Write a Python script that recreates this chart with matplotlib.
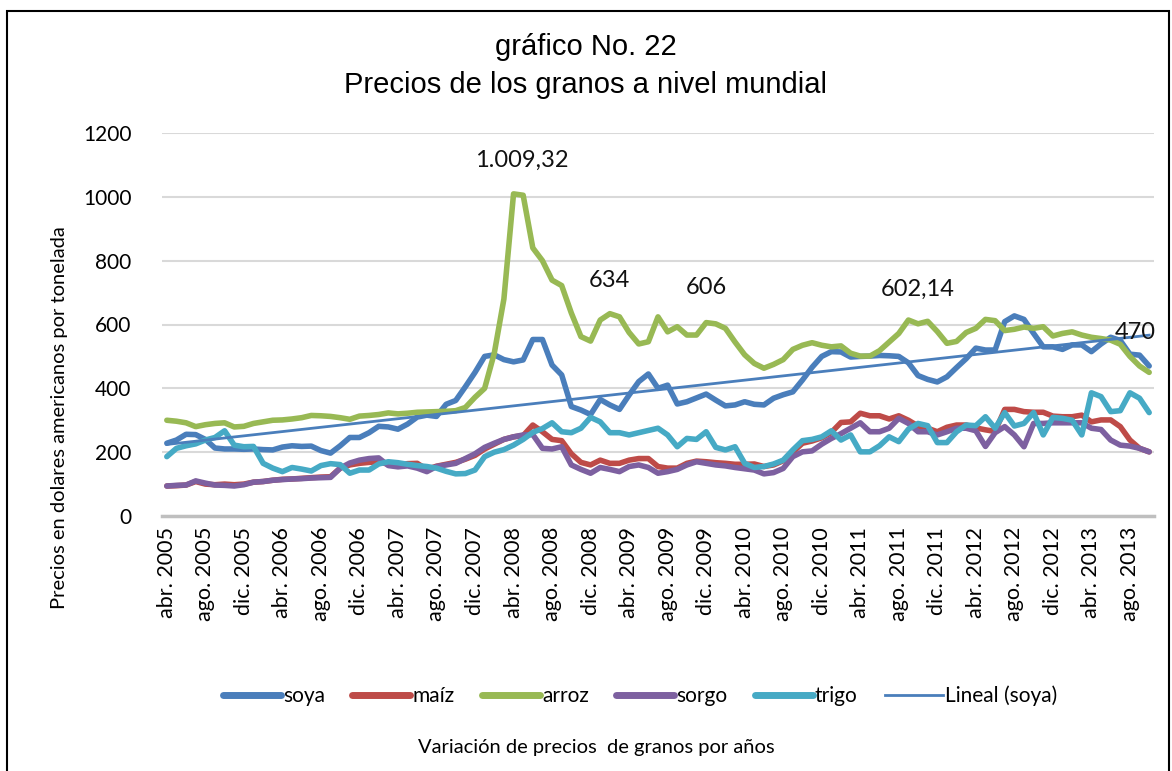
import numpy as np
import matplotlib
matplotlib.use("Agg")
import matplotlib.pyplot as plt
from matplotlib.patches import Rectangle

plt.rcParams["font.family"] = ["Lato", "DejaVu Sans"]

# monthly prices, abr. 2005 .. oct. 2013 (USD per tonne)
meses = ["ene.", "feb.", "mar.", "abr.", "may.", "jun.", "jul.", "ago.", "sep.", "oct.", "nov.", "dic."]
fechas = [f"{meses[(3 + k) % 12]} {2005 + (3 + k) // 12}" for k in range(103)]

soya = [228, 238, 256, 255, 240, 213, 210, 210, 209, 210,
        208, 207, 216, 220, 218, 219, 205, 197, 220, 246,
        246, 261, 281, 279, 272, 288, 310, 316, 312, 350,
        362, 405, 450, 500, 505, 490, 483, 489, 553, 553,
        473, 442, 343, 332, 318, 365, 348, 334, 379, 421,
        445, 400, 410, 351, 358, 370, 382, 363, 345, 348,
        358, 350, 348, 369, 380, 389, 426, 466, 500, 515,
        514, 498, 500, 501, 503, 502, 500, 480, 440, 428,
        420, 436, 465, 493, 526, 520, 520, 609, 627, 616,
        572, 530, 530, 522, 536, 536, 515, 539, 560, 550,
        507, 504, 470]

maiz = [94, 95, 97, 108, 100, 98, 100, 98, 100, 106,
        108, 112, 115, 116, 118, 120, 122, 123, 150, 160,
        165, 168, 170, 162, 160, 164, 165, 146, 156, 162,
        168, 178, 190, 210, 225, 240, 248, 252, 285, 264,
        240, 236, 195, 168, 160, 175, 165, 165, 175, 180,
        180, 155, 150, 150, 165, 172, 170, 167, 165, 162,
        162, 163, 155, 160, 173, 200, 228, 235, 245, 262,
        293, 295, 322, 314, 314, 304, 314, 300, 282, 275,
        264, 278, 285, 285, 276, 270, 265, 334, 334, 327,
        325, 325, 313, 311, 311, 316, 295, 301, 301, 280,
        238, 212, 201]

arroz = [300, 297, 292, 280, 286, 290, 292, 279, 281, 290,
         295, 300, 301, 304, 308, 315, 314, 312, 308, 303,
         313, 315, 318, 323, 320, 322, 325, 326, 327, 328,
         330, 340, 372, 400, 510, 680, 1009.32, 1005, 840, 800,
         739, 722, 636, 562, 548, 614, 634, 624, 575, 539,
         546, 624, 577, 593, 567, 567, 606, 602, 588, 545,
         505, 478, 463, 475, 490, 522, 535, 543, 535, 530,
         533, 510, 501, 501, 518, 545, 572, 614, 602.14, 610,
         578, 541, 547, 575, 588, 616, 612, 581, 585, 592,
         588, 593, 564, 572, 577, 567, 560, 556, 551, 538,
         500, 470, 450]

sorgo = [94, 96, 97, 110, 103, 97, 96, 94, 98, 106,
         108, 112, 114, 116, 117, 119, 120, 121, 150, 166,
         175, 180, 182, 158, 154, 157, 150, 139, 155, 160,
         165, 180, 195, 215, 228, 240, 248, 254, 255, 212,
         210, 217, 160, 146, 134, 152, 146, 139, 155, 160,
         152, 134, 139, 146, 160, 170, 165, 160, 157, 152,
         148, 144, 132, 136, 149, 186, 201, 204, 225, 243,
         258, 275, 292, 264, 264, 275, 306, 290, 264, 264,
         254, 264, 275, 275, 267, 218, 261, 280, 254, 217,
         290, 290, 292, 292, 292, 292, 275, 271, 238, 222,
         219, 212, 201]

trigo = [186, 212, 220, 226, 238, 246, 267, 222, 217, 218,
         165, 150, 139, 152, 147, 141, 158, 164, 161, 134,
         144, 144, 163, 170, 167, 162, 158, 155, 150, 140,
         132, 133, 144, 186, 200, 208, 222, 240, 262, 274,
         292, 264, 261, 275, 309, 295, 261, 261, 254, 261,
         268, 275, 254, 217, 243, 240, 264, 215, 207, 217,
         165, 152, 155, 163, 175, 207, 236, 240, 248, 267,
         238, 254, 201, 201, 220, 248, 233, 272, 290, 283,
         230, 230, 264, 285, 283, 311, 275, 324, 282, 290,
         324, 254, 309, 306, 300, 254, 386, 374, 327, 330,
         386, 369, 324]

# data labels: (series, index, text)
etiquetas = [("arroz", 36, "1.009,32"), ("arroz", 46, "634"), ("arroz", 56, "606"),
             ("arroz", 78, "602,14"), ("soya", 102, "470")]

series = {"soya": soya, "maíz": maiz, "arroz": arroz, "sorgo": sorgo, "trigo": trigo}
colores = {"soya": "#4a7ebb", "maíz": "#be4b48", "arroz": "#98b954",
           "sorgo": "#7d60a0", "trigo": "#46aac5"}

x = np.arange(len(fechas))

fig = plt.figure(figsize=(11.72, 7.71), dpi=100)
W, H = 1172, 771
ax = fig.add_axes([162 / W, 1 - 516 / H, (1154 - 162) / W, (516 - 133) / H])

for nombre, vals in series.items():
    ax.plot(x, vals, color=colores[nombre], lw=4, solid_capstyle="round",
            solid_joinstyle="round", label=nombre, zorder=3)

# linear trend of soya
m, b = np.polyfit(x, soya, 1)
ax.plot(x, m * x + b, color="#4a7ebb", lw=2.0, label="Lineal (soya)", zorder=4)

datos = {"soya": soya, "arroz": arroz}
offs = {36: (6, 24), 46: (0, 24), 56: (0, 25), 78: (0, 25), 102: (-10, 24)}
for s, i, txt in etiquetas:
    ax.annotate(txt, xy=(i, datos[s][i]), xytext=offs[i], textcoords="offset points",
                ha="center", va="center", fontsize=17, color="#111111", zorder=5)

ax.set_xlim(-0.5, len(fechas) - 0.5)
ax.set_ylim(0, 1200)
ax.set_yticks(range(0, 1201, 200))
ax.set_xticks(x[::4])
ax.set_xticklabels(fechas[::4], rotation=90, fontsize=15.5)
ax.tick_params(axis="y", labelsize=15, length=0, pad=22)
ax.tick_params(axis="x", length=0, pad=8)
ax.grid(axis="y", color="#d9d9d9", lw=1.5)
ax.set_axisbelow(True)
for sp in ["left", "right", "top"]:
    ax.spines[sp].set_visible(False)
ax.spines["bottom"].set_color("#bfbfbf")
ax.spines["bottom"].set_linewidth(2.5)

fig.text(0.5, 1 - 47 / H, "gráfico No. 22", ha="center", va="center",
         fontsize=21, family=["Liberation Sans", "DejaVu Sans"])
fig.text(0.5, 1 - 85 / H, "Precios de los granos a nivel mundial", ha="center",
         va="center", fontsize=21, family=["Liberation Sans", "DejaVu Sans"])

fig.text(60 / W, 1 - 418 / H, "Precios en dolares americanos por tonelada",
         rotation=90, ha="center", va="center", fontsize=14.5)
fig.text(596 / W, 1 - 748 / H, "Variación de precios  de granos por años",
         ha="center", va="center", fontsize=14.5)

handles, labels = ax.get_legend_handles_labels()
leg = fig.legend(handles, labels, loc="center", bbox_to_anchor=(640 / W, 1 - 696 / H),
                 ncol=6, frameon=False, fontsize=15, handlelength=2.8,
                 handletextpad=0.1, columnspacing=1.3)
for h in leg.get_lines()[:5]:
    h.set_linewidth(5)

fig.add_artist(Rectangle((7 / W, -0.01), (1169 - 7) / W, 1 - 11 / H + 0.01,
                         transform=fig.transFigure, fill=False, ec="black", lw=1.5))

fig.savefig("out.png", dpi=100)
